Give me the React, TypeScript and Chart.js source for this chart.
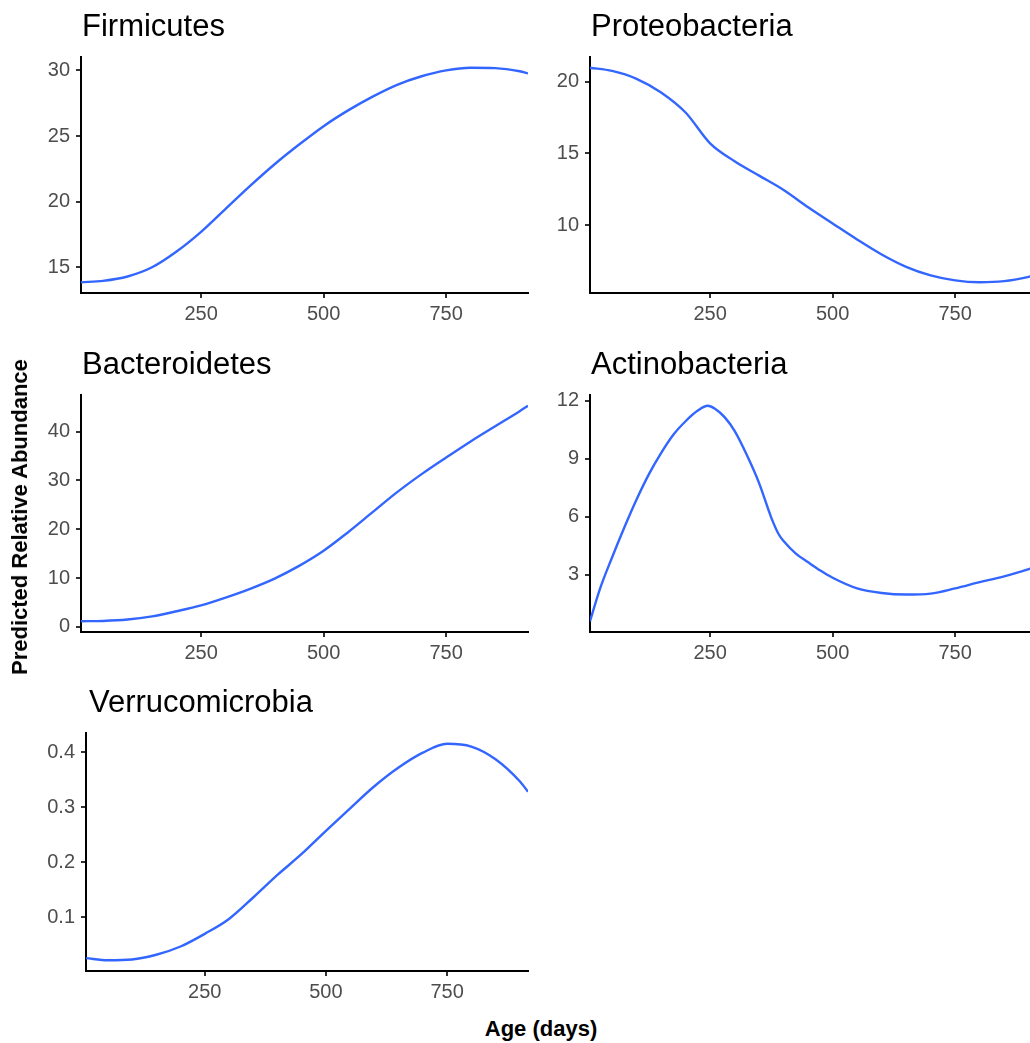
import React, { useEffect, useRef } from "react";
import { Chart, registerables } from "chart.js";

Chart.register(...registerables);

// ---------- data ----------
const ageDays = [5, 50, 100, 150, 200, 250, 300, 350, 400, 450, 500, 550, 600, 650, 700, 750, 800, 850, 900, 917];
const actinoAgeDays = [5, 25, 50, 75, 100, 125, 150, 175, 200, 225, 245, 260, 280, 300, 325, 350, 375, 390, 400, 425, 450, 475, 500, 550, 600, 650, 700, 750, 800, 850, 900, 917];

const firmicutes = [13.86, 13.97, 14.3, 15.0, 16.2, 17.7, 19.45, 21.2, 22.85, 24.35, 25.75, 26.95, 28.0, 28.9, 29.55, 30.0, 30.2, 30.17, 29.93, 29.77];
const proteobacteria = [20.97, 20.75, 20.2, 19.25, 17.85, 15.7, 14.45, 13.45, 12.45, 11.25, 10.12, 9.0, 7.96, 7.1, 6.5, 6.15, 6.02, 6.1, 6.4, 6.55];
const bacteroidetes = [1.16, 1.22, 1.5, 2.15, 3.2, 4.4, 6.0, 7.8, 9.9, 12.5, 15.6, 19.4, 23.5, 27.6, 31.3, 34.7, 38.0, 41.1, 44.2, 45.3];
const actinobacteria = [0.6, 2.25, 3.9, 5.45, 6.9, 8.2, 9.3, 10.25, 10.95, 11.5, 11.75, 11.6, 11.15, 10.45, 9.2, 7.75, 5.95, 5.1, 4.75, 4.1, 3.65, 3.22, 2.85, 2.3, 2.06, 1.98, 2.03, 2.3, 2.62, 2.92, 3.3, 3.45];
const verrucomicrobia = [0.026, 0.0222, 0.0235, 0.032, 0.047, 0.07, 0.097, 0.136, 0.177, 0.215, 0.257, 0.298, 0.338, 0.372, 0.399, 0.415, 0.41, 0.387, 0.347, 0.328];

const xTicks = [250, 500, 750];
const firmicutesTicks = [15, 20, 25, 30];
const proteoTicks = [10, 15, 20];
const bacteroidetesTicks = [0, 10, 20, 30, 40];
const actinoTicks = [3, 6, 9, 12];
const verrucoTicks = [0.1, 0.2, 0.3, 0.4];

const xMin = 5;
const xMax = 917;

// ---------- layout / style ----------
const FONT = '"Liberation Sans", Arial, Helvetica, sans-serif';
const Y_AXIS_W = 80;
const X_AXIS_H = 40;
const TOP_PAD = 45;
const RIGHT_PAD = 4;

const panels = [
  { title: "Firmicutes", xs: ageDays, ys: firmicutes, yTicks: firmicutesTicks, left: 81, top: 57, right: 528, bottom: 293, titleDx: 1 },
  { title: "Proteobacteria", xs: ageDays, ys: proteobacteria, yTicks: proteoTicks, left: 590, top: 57, right: 1037, bottom: 293, titleDx: 1 },
  { title: "Bacteroidetes", xs: ageDays, ys: bacteroidetes, yTicks: bacteroidetesTicks, left: 81, top: 395, right: 528, bottom: 632, titleDx: 1 },
  { title: "Actinobacteria", xs: actinoAgeDays, ys: actinobacteria, yTicks: actinoTicks, left: 590, top: 395, right: 1037, bottom: 632, titleDx: 1 },
  { title: "Verrucomicrobia", xs: ageDays, ys: verrucomicrobia, yTicks: verrucoTicks, left: 86, top: 733, right: 528, bottom: 971, titleDx: 3 },
];

const titlePlugin = {
  id: "panelTitle",
  afterDraw(chart: any, _args: any, opts: any) {
    const { ctx, chartArea } = chart;
    ctx.save();
    ctx.font = `31px ${FONT}`;
    ctx.fillStyle = "#000000";
    ctx.textAlign = "left";
    ctx.textBaseline = "alphabetic";
    ctx.fillText(opts.text, chartArea.left + opts.dx, chartArea.top - 21);
    ctx.restore();
  },
};

function Panel(props: any) {
  const { title, xs, ys, yTicks, left, top, right, bottom, titleDx } = props;
  const ref = useRef<HTMLCanvasElement | null>(null);
  const w = right - left + Y_AXIS_W + RIGHT_PAD;
  const h = bottom - top + TOP_PAD + X_AXIS_H;

  useEffect(() => {
    if (!ref.current) return;
    const lo = Math.min(...ys);
    const hi = Math.max(...ys);
    const pad = (hi - lo) * 0.05;
    const data = xs.map((x: number, i: number) => ({ x, y: ys[i] }));
    const axisCommon = {
      type: "linear" as const,
      grid: {
        drawOnChartArea: false,
        drawTicks: true,
        tickLength: 5,
        color: "#333333",
        tickColor: "#333333",
        lineWidth: 2,
        tickWidth: 2,
      },
      border: { display: true, color: "#000000", width: 2 },
    };
    const chart = new Chart(ref.current, {
      type: "line",
      data: {
        datasets: [
          {
            data,
            borderColor: "#3366FF",
            borderWidth: 2.4,
            pointRadius: 0,
            fill: false,
            cubicInterpolationMode: "monotone",
          },
        ],
      },
      options: {
        responsive: false,
        animation: false,
        devicePixelRatio: 1,
        layout: { padding: { top: TOP_PAD, right: RIGHT_PAD, left: 0, bottom: 0 } },
        plugins: {
          legend: { display: false },
          tooltip: { enabled: false },
          panelTitle: { text: title, dx: titleDx },
        } as any,
        scales: {
          x: {
            ...axisCommon,
            min: xMin,
            max: xMax,
            afterBuildTicks: (s: any) => {
              s.ticks = xTicks.map((v) => ({ value: v }));
            },
            afterFit: (s: any) => {
              s.height = X_AXIS_H;
            },
            ticks: {
              color: "#4D4D4D",
              font: { size: 20, family: FONT },
              padding: 4,
              maxRotation: 0,
              autoSkip: false,
              callback: (v: any) => String(v),
            },
          },
          y: {
            ...axisCommon,
            min: lo - pad,
            max: hi + pad,
            afterBuildTicks: (s: any) => {
              s.ticks = yTicks.map((v: number) => ({ value: v }));
            },
            afterFit: (s: any) => {
              s.width = Y_AXIS_W;
            },
            ticks: {
              color: "#4D4D4D",
              font: { size: 20, family: FONT },
              padding: 6,
              autoSkip: false,
              callback: (v: any) => String(v),
            },
          },
        },
      } as any,
      plugins: [titlePlugin as any],
    });
    return () => chart.destroy();
  }, []);

  return (
    <canvas
      ref={ref}
      width={w}
      height={h}
      style={{
        position: "absolute",
        left: left - Y_AXIS_W,
        top: top - TOP_PAD,
        width: w,
        height: h,
      }}
    />
  );
}

export default function App() {
  return (
    <div
      style={{
        position: "absolute",
        left: 0,
        top: 0,
        width: 1030,
        height: 1043,
        overflow: "hidden",
        background: "#ffffff",
      }}
    >
      {panels.map((p) => (
        <Panel key={p.title} {...p} />
      ))}
      <div
        style={{
          position: "absolute",
          left: 20,
          top: 517,
          transform: "translate(-50%, -50%) rotate(-90deg)",
          whiteSpace: "nowrap",
          fontFamily: FONT,
          fontWeight: "bold",
          fontSize: 22,
          lineHeight: "22px",
          color: "#000",
        }}
      >
        Predicted Relative Abundance
      </div>
      <div
        style={{
          position: "absolute",
          left: 541,
          top: 1018,
          transform: "translateX(-50%)",
          whiteSpace: "nowrap",
          fontFamily: FONT,
          fontWeight: "bold",
          fontSize: 22,
          lineHeight: "22px",
          color: "#000",
        }}
      >
        Age (days)
      </div>
    </div>
  );
}
